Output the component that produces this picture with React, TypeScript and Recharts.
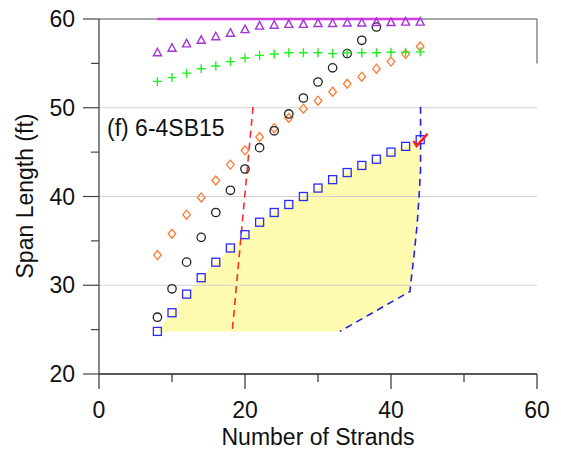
import React from "react";
import {
  ComposedChart,
  XAxis,
  YAxis,
  Scatter,
  Line,
  Area,
  ReferenceLine,
} from "recharts";

const FONT = "'Liberation Sans', Arial, Helvetica, sans-serif";

// strand counts used by most of the series
const strands = [8, 10, 12, 14, 16, 18, 20, 22, 24, 26, 28, 30, 32, 34, 36, 38, 40, 42, 44];
const circleStrands = [8, 10, 12, 14, 16, 18, 20, 22, 24, 26, 28, 30, 32, 34, 36, 38];

const triangleSpan = [56.2, 56.7, 57.2, 57.6, 58.0, 58.4, 58.8, 59.2, 59.3, 59.4, 59.4, 59.5, 59.5, 59.55, 59.55, 59.6, 59.6, 59.65, 59.65];
const plusSpan = [52.97, 53.4, 53.9, 54.4, 54.7, 55.2, 55.6, 55.9, 56.05, 56.2, 56.2, 56.2, 56.1, 56.2, 56.2, 56.2, 56.25, 56.25, 56.3];
const diamondSpan = [33.4, 35.8, 37.95, 39.9, 41.8, 43.6, 45.2, 46.7, 47.7, 48.85, 49.9, 50.8, 51.8, 52.7, 53.5, 54.4, 55.2, 56.05, 56.9];
const circleSpan = [26.4, 29.6, 32.6, 35.4, 38.2, 40.7, 43.1, 45.5, 47.4, 49.3, 51.1, 52.9, 54.5, 56.1, 57.6, 59.1];
const squareSpan = [24.8, 26.9, 29.0, 30.85, 32.6, 34.2, 35.7, 37.1, 38.2, 39.1, 40.0, 40.95, 41.9, 42.7, 43.5, 44.2, 45.0, 45.65, 46.4];

// limit lines
const magentaX = [8, 44];
const magentaY = [60, 60];
const redDashX = [21.1, 18.25];
const redDashY = [50.1, 24.8];
const blueDashX = [44.05, 44.05, 43.9, 43.6, 43.15, 42.7, 42.6, 33.0];
const blueDashY = [50.1, 43.0, 40.8, 37.0, 33.3, 30.2, 29.3, 24.8];

const checkPoint = [{ x: 43.5, y: 45.7 }];
const panelLabel = "(f) 6-4SB15";
const labelPoint = [{ x: 1.1, y: 46.85 }];

const xTicks = [0, 10, 20, 30, 40, 50, 60];
const yTicks = [20, 25, 30, 35, 40, 45, 50, 55, 60];
const gridY = [30, 40, 50];

const zip = (xs: number[], ys: number[]) => xs.map((x, i) => ({ x, y: ys[i] }));

const triangles = zip(strands, triangleSpan);
const pluses = zip(strands, plusSpan);
const diamonds = zip(strands, diamondSpan);
const circles = zip(circleStrands, circleSpan);
const squares = zip(strands, squareSpan);
const magentaLine = zip(magentaX, magentaY);
const redDash = zip(redDashX, redDashY);
const blueDash = zip(blueDashX, blueDashY);
// shaded region: up along the squares, back down the blue limit
const shaded = [...squares, ...blueDash.filter((p) => p.y < squares[squares.length - 1].y)];

const XTick = (props: any) => {
  const { x, y, payload } = props;
  const major = payload.value % 20 === 0;
  return (
    <g>
      <line x1={x} x2={x} y1={y} y2={y + (major ? 15 : 8)} stroke="#333" strokeWidth={1.2} />
      {major && (
        <text x={x} y={y + 44} textAnchor="middle" fontSize={23} fontFamily={FONT} fill="#111">
          {payload.value}
        </text>
      )}
    </g>
  );
};

const YTick = (props: any) => {
  const { x, y, payload } = props;
  const major = payload.value % 10 === 0;
  return (
    <g>
      <line x1={x - (major ? 16 : 8)} x2={x} y1={y} y2={y} stroke="#444" strokeWidth={1.2} />
      {major && (
        <text x={x - 24} y={y + 8} textAnchor="end" fontSize={23} fontFamily={FONT} fill="#111">
          {payload.value}
        </text>
      )}
    </g>
  );
};

const Triangle = (p: any) => (
  <polygon
    points={`${p.cx},${p.cy - 4.5} ${p.cx + 4},${p.cy + 3} ${p.cx - 4},${p.cy + 3}`}
    fill="none"
    stroke="#a334d8"
    strokeWidth={1.4}
  />
);
const Plus = (p: any) => (
  <path
    d={`M${p.cx - 4.5},${p.cy}H${p.cx + 4.5}M${p.cx},${p.cy - 4.5}V${p.cy + 4.5}`}
    stroke="#22ee22"
    strokeWidth={1.4}
    fill="none"
  />
);
const Diamond = (p: any) => (
  <polygon
    points={`${p.cx},${p.cy - 4.5} ${p.cx + 3.8},${p.cy} ${p.cx},${p.cy + 4.5} ${p.cx - 3.8},${p.cy}`}
    fill="none"
    stroke="#ff7a30"
    strokeWidth={1.3}
  />
);
const Circle = (p: any) => (
  <circle cx={p.cx} cy={p.cy} r={4.2} fill="none" stroke="#222" strokeWidth={1.3} />
);
const Square = (p: any) => (
  <rect x={p.cx - 4} y={p.cy - 4} width={8} height={8} fill="none" stroke="#2a2aff" strokeWidth={1.3} />
);
const Check = (p: any) => (
  <path
    d={`M${p.cx - 3},${p.cy - 5}L${p.cx},${p.cy}L${p.cx + 11},${p.cy - 12}`}
    stroke="#ff1a1a"
    strokeWidth={2.4}
    fill="none"
  />
);
const PanelText = (p: any) => (
  <text x={p.cx} y={p.cy} fontSize={23} fontFamily={FONT} fill="#111">
    {panelLabel}
  </text>
);

const App = () => {
  return (
    <div style={{ position: "absolute", left: 0, top: 0 }}>
      <ComposedChart width={561} height={451} margin={{ top: 19, right: 24, left: 0, bottom: 0 }}>
        <XAxis
          type="number"
          dataKey="x"
          domain={[0, 60]}
          ticks={xTicks}
          interval={0}
          height={77}
          tickSize={0}
          tickMargin={0}
          tickLine={false}
          tick={<XTick />}
          axisLine={{ stroke: "#222", strokeWidth: 1.3 }}
          label={{
            content: () => (
              <text x={318} y={445} textAnchor="middle" fontSize={23} fontFamily={FONT} fill="#111">
                Number of Strands
              </text>
            ),
          }}
        />
        <YAxis
          type="number"
          dataKey="y"
          domain={[20, 60]}
          ticks={yTicks}
          interval={0}
          width={99}
          tickSize={0}
          tickMargin={0}
          tickLine={false}
          tick={<YTick />}
          axisLine={{ stroke: "#444", strokeWidth: 1.3 }}
          label={{
            content: () => (
              <text
                x={25}
                y={196}
                transform="rotate(-90 25 196)"
                textAnchor="middle"
                dominantBaseline="central"
                fontSize={23}
                fontFamily={FONT}
                fill="#111"
              >
                Span Length (ft)
              </text>
            ),
          }}
        />
        <Area
          data={shaded}
          dataKey="y"
          type="linear"
          baseValue={squareSpan[0]}
          fill="#fefbb0"
          fillOpacity={1}
          stroke="none"
          isAnimationActive={false}
        />
        {gridY.map((v) => (
          <ReferenceLine key={v} y={v} stroke="#d2d2d2" strokeWidth={1} />
        ))}
        <ReferenceLine y={60} stroke="#888" strokeWidth={1.5} />
        <ReferenceLine segment={[{ x: 60, y: 60 }, { x: 60, y: 55 }]} stroke="#888" strokeWidth={1.5} />
        <Line data={redDash} dataKey="y" type="linear" stroke="#ff2a2a" strokeWidth={1.6} strokeDasharray="7 5" dot={false} isAnimationActive={false} />
        <Line data={blueDash} dataKey="y" type="linear" stroke="#2020ee" strokeWidth={1.6} strokeDasharray="7 5" dot={false} isAnimationActive={false} />
        <Line data={magentaLine} dataKey="y" type="linear" stroke="#d63ce6" strokeWidth={2.5} dot={false} isAnimationActive={false} />
        <Scatter data={diamonds} shape={Diamond} isAnimationActive={false} />
        <Scatter data={circles} shape={Circle} isAnimationActive={false} />
        <Scatter data={pluses} shape={Plus} isAnimationActive={false} />
        <Scatter data={triangles} shape={Triangle} isAnimationActive={false} />
        <Scatter data={squares} shape={Square} isAnimationActive={false} />
        <Scatter data={checkPoint} shape={Check} isAnimationActive={false} />
        <Scatter data={labelPoint} shape={PanelText} isAnimationActive={false} />
      </ComposedChart>
    </div>
  );
};

export default App;
